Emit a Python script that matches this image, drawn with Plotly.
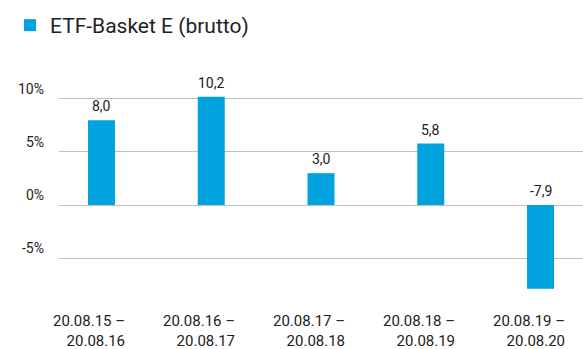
import plotly.graph_objects as go

# Annual gross returns of the ETF basket, in percent
periods = ["20.08.15 –<br>20.08.16", "20.08.16 –<br>20.08.17", "20.08.17 –<br>20.08.18",
           "20.08.18 –<br>20.08.19", "20.08.19 –<br>20.08.20"]
returns = [8.0, 10.2, 3.0, 5.8, -7.9]
series_name = "ETF-Basket E (brutto)"
y_ticks = [-5, 0, 5, 10]
y_tick_labels = ["-5%", "0%", "5%", "10%"]

BLUE = "#00A3DD"
TEXT = "#222222"
GRID = "#c0c0c0"
FONT = "Roboto"

positions = list(range(len(periods)))

fig = go.Figure()
fig.add_trace(go.Bar(
    x=positions, y=returns, name=series_name,
    marker=dict(color=BLUE, line=dict(width=0)),
    width=0.246, showlegend=True,
))

# value labels: above the bar top, or above the baseline for negative bars
for p, v in zip(positions, returns):
    fig.add_annotation(
        x=p, y=max(v, 0), xref="x", yref="y",
        text=f"{v:.1f}".replace(".", ","),
        showarrow=False, yanchor="bottom", yshift=4,
        font=dict(family=FONT, size=14, color=TEXT),
    )

# two-line period labels below the plot, right-aligned block
for p, lab in zip(positions, periods):
    fig.add_annotation(
        x=p, y=0, xref="x", yref="paper",
        text=lab, align="right",
        showarrow=False, xanchor="right", yanchor="top",
        xshift=26, yshift=-10,
        font=dict(family=FONT, size=15, color=TEXT),
    )

fig.update_layout(
    width=583, height=349,
    margin=dict(l=59, r=0, t=80, b=49),
    paper_bgcolor="white", plot_bgcolor="white",
    font=dict(family=FONT, size=14, color=TEXT),
    separators=",.",
    showlegend=True,
    legend=dict(
        orientation="h", xref="container", x=10 / 583, xanchor="left",
        yref="container", y=1 - 5 / 349, yanchor="top",
        font=dict(family=FONT, size=21, color=TEXT),
        bgcolor="rgba(0,0,0,0)",
    ),
    xaxis=dict(
        range=[-0.387, 4.387], showticklabels=False, showgrid=False,
        zeroline=False, showline=False, ticks="",
    ),
    yaxis=dict(
        range=[-8.96, 11.79], tickmode="array", tickvals=y_ticks, ticktext=y_tick_labels,
        showgrid=True, gridcolor=GRID, gridwidth=1,
        zeroline=True, zerolinecolor=GRID, zerolinewidth=1,
        showline=False, ticks="", ticklabelstandoff=14,
        ticklabelposition="outside top",
        tickfont=dict(family=FONT, size=14, color=TEXT),
    ),
)

fig.write_html("out.html")
